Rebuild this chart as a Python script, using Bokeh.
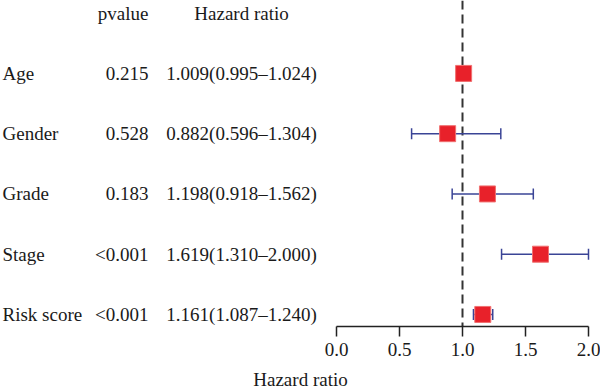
from bokeh.plotting import figure
from bokeh.models import Range1d, Span, Whisker, ColumnDataSource, TeeHead, FixedTicker, PrintfTickFormatter
from bokeh.core.properties import value
from bokeh.embed import file_html
from bokeh.resources import INLINE

variables = ["Age", "Gender", "Grade", "Stage", "Risk score"]
pvalues = ["0.215", "0.528", "0.183", "<0.001", "<0.001"]
hr = [1.009, 0.882, 1.198, 1.619, 1.161]
hr_low = [0.995, 0.596, 0.918, 1.310, 1.087]
hr_high = [1.024, 1.304, 1.562, 2.000, 1.240]
ticks = [0.0, 0.5, 1.0, 1.5, 2.0]

FONT = "Liberation Serif"
TXT = "#1a1a1a"
FS = "19px"
n = len(variables)
rows = [n - i for i in range(n)]
hr_text = ["%.3f(%.3f\u2013%.3f)" % (h, l, u) for h, l, u in zip(hr, hr_low, hr_high)]

W, H = 600, 392
PX = 126.0     # pixels per HR unit
X0 = 336.0     # pixel of HR = 0
x_lo, x_hi = -X0 / PX, (W - X0) / PX


def px(xpix):
    return (xpix - X0) / PX


p = figure(width=W, height=H, output_backend="svg", toolbar_location=None,
           x_range=Range1d(x_lo, x_hi), y_range=Range1d(0.80, 6.21),
           min_border_left=0, min_border_right=0, min_border_top=0, min_border_bottom=0)
p.outline_line_color = None
p.grid.visible = False
p.yaxis.visible = False
p.background_fill_color = None
p.border_fill_color = "white"

ax = p.xaxis[0]
ax.bounds = (0, 2)
ax.ticker = FixedTicker(ticks=ticks)
ax.formatter = PrintfTickFormatter(format="%.1f")
ax.axis_label = "Hazard ratio"
ax.axis_label_text_font = FONT
ax.axis_label_text_font_style = "normal"
ax.axis_label_text_font_size = FS
ax.axis_label_text_color = TXT
ax.axis_label_standoff = 10
ax.major_label_text_font = FONT
ax.major_label_text_font_size = FS
ax.major_label_text_color = TXT
ax.major_label_standoff = 6
ax.axis_line_color = "#222222"
ax.axis_line_width = 1.5
ax.major_tick_line_color = "#222222"
ax.major_tick_line_width = 1.5
ax.major_tick_out = 10
ax.major_tick_in = 0
ax.minor_tick_line_color = None

p.add_layout(Span(location=1.0, dimension="height", line_color="#333333",
                  line_width=2, line_dash="9 5", level="underlay"))

src = ColumnDataSource(dict(y=rows, hr=hr, lo=hr_low, hi=hr_high, var=variables,
                            pv=pvalues, hrt=hr_text))
p.add_layout(Whisker(source=src, base="y", lower="lo", upper="hi", dimension="width",
                     line_color="#3a4496", line_width=1.5, level="underlay",
                     lower_head=TeeHead(size=11, line_color="#3a4496", line_width=1.5),
                     upper_head=TeeHead(size=11, line_color="#3a4496", line_width=1.5)))
p.scatter(x="hr", y="y", source=src, marker="square", size=16,
          fill_color="#e8212a", line_color="#f07070", line_width=1)

common = dict(text_font=value(FONT), text_font_size=value(FS), text_color=TXT,
              text_baseline="middle")
p.text(x=px(2), y="y", text="var", source=src, text_align="left", **common)
p.text(x=px(148), y="y", text="pv", source=src, text_align="right", **common)
p.text(x=[px(148)], y=[n + 1], text=["pvalue"], text_align="right", **common)
p.text(x=px(241), y="y", text="hrt", source=src, text_align="center", **common)
p.text(x=[px(241)], y=[n + 1], text=["Hazard ratio"], text_align="center", **common)

open("out.html", "w").write(file_html(p, INLINE))
